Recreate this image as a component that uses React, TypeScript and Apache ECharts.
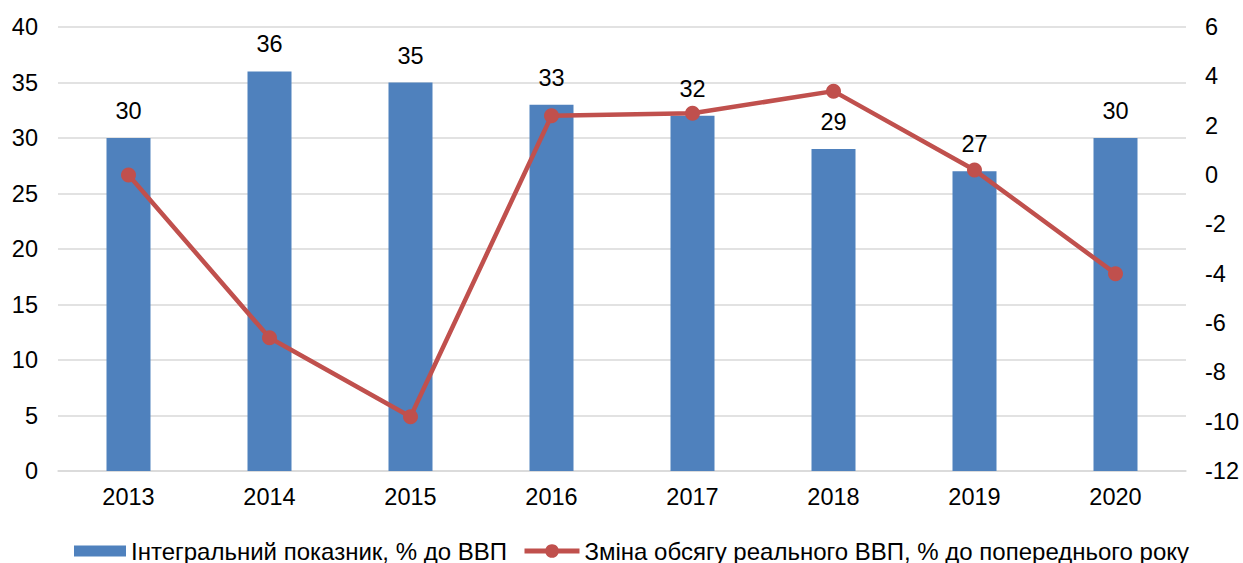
import React, { useEffect, useRef } from "react";
import * as echarts from "echarts";

const years = ["2013", "2014", "2015", "2016", "2017", "2018", "2019", "2020"];
const integralIndex = [30, 36, 35, 33, 32, 29, 27, 30];
const gdpChange = [0.0, -6.6, -9.8, 2.4, 2.5, 3.4, 0.2, -4.0];
const barName = "Інтегральний показник, % до ВВП";
const lineName = "Зміна обсягу реального ВВП, % до попереднього року";

const FONT = "'Liberation Sans', Arial, sans-serif";
const FS = 23.5;

export default function App() {
  const ref = useRef<HTMLDivElement>(null);
  useEffect(() => {
    if (!ref.current) return;
    const chart = echarts.init(ref.current, undefined, { renderer: "svg" });
    chart.setOption({
      animation: false,
      textStyle: { fontFamily: FONT },
      grid: { left: 58, right: 57, top: 27, bottom: 92, containLabel: false },
      legend: [
        {
          left: 74,
          top: 539,
          padding: 0,
          itemWidth: 52,
          itemHeight: 11,
          textStyle: { fontSize: 24, color: "#000", fontFamily: FONT },
          data: [{ name: barName, icon: "rect" }],
        },
        {
          left: 522,
          top: 539,
          padding: 0,
          itemWidth: 55,
          itemHeight: 17,
          textStyle: { fontSize: 24, color: "#000", fontFamily: FONT },
          data: [{ name: lineName, lineStyle: { width: 5 } }],
        },
      ],
      xAxis: {
        type: "category",
        data: years,
        axisTick: { show: false },
        axisLine: { lineStyle: { color: "#d9d9d9", width: 1.5 } },
        axisLabel: { fontSize: FS, color: "#000", margin: 14, fontFamily: FONT },
      },
      yAxis: [
        {
          type: "value",
          min: 0,
          max: 40,
          interval: 5,
          axisLine: { show: false },
          axisTick: { show: false },
          splitLine: { lineStyle: { color: "#d9d9d9", width: 1.5 } },
          axisLabel: { fontSize: FS, color: "#000", margin: 20, fontFamily: FONT },
        },
        {
          type: "value",
          min: -12,
          max: 6,
          interval: 2,
          position: "right",
          axisLine: { show: false },
          axisTick: { show: false },
          splitLine: { show: false },
          axisLabel: { fontSize: FS, color: "#000", margin: 19, fontFamily: FONT },
        },
      ],
      series: [
        {
          name: barName,
          type: "bar",
          data: integralIndex,
          barWidth: 44,
          itemStyle: { color: "#4F81BD" },
          label: {
            show: true,
            position: "top",
            distance: 15,
            fontSize: FS,
            color: "#000",
            fontFamily: FONT,
          },
        },
        {
          name: lineName,
          type: "line",
          yAxisIndex: 1,
          data: gdpChange,
          symbol: "circle",
          symbolSize: 15,
          lineStyle: { color: "#C0504D", width: 4.5 },
          itemStyle: { color: "#C0504D" },
        },
      ],
    });
    return () => chart.dispose();
  }, []);
  return (
    <div
      ref={ref}
      style={{ position: "fixed", left: 0, top: 0, width: 1243, height: 563, background: "#fff" }}
    />
  );
}
